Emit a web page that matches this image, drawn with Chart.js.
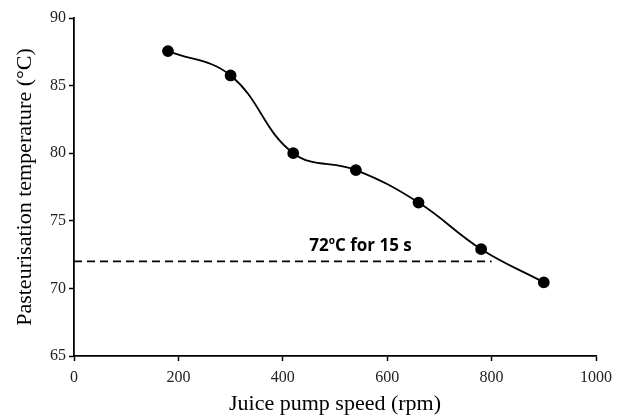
<!DOCTYPE html>
<html lang="en">
<head>
  <meta charset="UTF-8" />
  <title>Pasteurisation temperature vs juice pump speed</title>
  <script src="https://cdn.jsdelivr.net/npm/chart.js"></script>
  <style>
    * { box-sizing: border-box; margin: 0; padding: 0; }
    body, html { background: #fff; }
    canvas { display: block; }
  </style>
</head>
<body>
  <canvas id="chart" width="622" height="417"></canvas>
  <script>
    // Data
    const pumpSpeed = [180, 300, 420, 540, 660, 780, 900];
    const temperature = [87.55, 85.75, 80.0, 78.75, 76.35, 72.9, 70.45];

    // 72 C threshold line
    const limitX = [0, 800];
    const limitY = 72;
    const limitLabel = { x: 549, y: 73.1, before: '72', sup: 'o', after: 'C for 15 s' };

    const xTicks = [0, 200, 400, 600, 800, 1000];
    const yTicks = [65, 70, 75, 80, 85, 90];

    const serif = "'Liberation Serif', 'Times New Roman', serif";

    // text label above the dashed line, with superscript "o"
    const labelPlugin = {
      id: 'limitLabel',
      afterDatasetsDraw(chart) {
        const ctx = chart.ctx;
        const px = chart.scales.x.getPixelForValue(limitLabel.x);
        const py = chart.scales.y.getPixelForValue(limitLabel.y);
        ctx.save();
        ctx.fillStyle = '#000';
        ctx.textBaseline = 'middle';
        const big = "bold 17px 'Open Sans', 'Liberation Sans', sans-serif";
        const small = "bold 10px 'Open Sans', 'Liberation Sans', sans-serif";
        ctx.font = big;
        const w1 = ctx.measureText(limitLabel.before).width;
        const w3 = ctx.measureText(limitLabel.after).width;
        ctx.font = small;
        const w2 = ctx.measureText(limitLabel.sup).width;
        let x = px - (w1 + w2 + w3) / 2;
        ctx.font = big;
        ctx.fillText(limitLabel.before, x, py);
        x += w1;
        ctx.font = small;
        ctx.fillText(limitLabel.sup, x, py - 5);
        x += w2;
        ctx.font = big;
        ctx.fillText(limitLabel.after, x, py);
        ctx.restore();
      }
    };

    new Chart(document.getElementById('chart'), {
      type: 'scatter',
      data: {
        datasets: [
          {
            label: 'Temperature',
            data: pumpSpeed.map((s, i) => ({ x: s, y: temperature[i] })),
            showLine: true,
            borderColor: '#000',
            backgroundColor: '#000',
            borderWidth: 1.8,
            pointRadius: 5,
            tension: 0.4
          },
          {
            label: '72 C limit',
            data: limitX.map(v => ({ x: v, y: limitY })),
            showLine: true,
            borderColor: '#000',
            borderWidth: 1.6,
            borderDash: [8, 5],
            pointRadius: 0
          }
        ]
      },
      options: {
        responsive: false,
        animation: false,
        layout: { padding: { top: 18, right: 26, left: 0, bottom: 0 } },
        plugins: { legend: { display: false }, tooltip: { enabled: false } },
        scales: {
          x: {
            type: 'linear',
            min: 0, max: 1000,
            afterBuildTicks: s => { s.ticks = xTicks.map(v => ({ value: v })); },
            afterFit: s => { s.height = 61; },
            grid: { display: true, drawOnChartArea: false, drawTicks: true, tickLength: 5, tickColor: '#000', tickWidth: 1.5 },
            border: { color: '#000', width: 1.8 },
            ticks: { color: '#222', font: { family: serif, size: 16 }, padding: 7, maxRotation: 0, callback: v => String(v) },
            title: { display: true, text: 'Juice pump speed (rpm)', color: '#000', font: { family: serif, size: 22, lineHeight: 0.8 }, padding: { top: 0 } }
          },
          y: {
            min: 65, max: 90,
            afterBuildTicks: s => { s.ticks = yTicks.map(v => ({ value: v })); },
            afterFit: s => { s.width = 74; },
            grid: { display: true, drawOnChartArea: false, drawTicks: true, tickLength: 5, tickColor: '#000', tickWidth: 1.5 },
            border: { color: '#000', width: 1.8 },
            ticks: { color: '#222', font: { family: serif, size: 16 }, padding: 3, callback: v => String(v) },
            title: { display: true, text: 'Pasteurisation temperature (°C)', color: '#000', font: { family: serif, size: 22 }, padding: { top: 12, bottom: 0 } }
          }
        }
      },
      plugins: [labelPlugin]
    });
  </script>
</body>
</html>
